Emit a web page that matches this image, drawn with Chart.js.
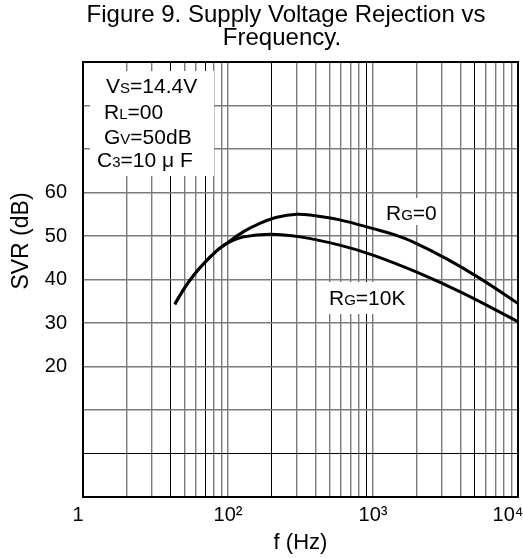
<!DOCTYPE html>
<html>
<head>
<meta charset="utf-8">
<script src="https://cdn.jsdelivr.net/npm/chart.js@4.4.0/dist/chart.umd.min.js"></script>
<style>
  html, body { margin: 0; padding: 0; background: #fff; }
</style>
</head>
<body>
<canvas id="svrChart" width="523" height="558"></canvas>
<script>
// values: frequency (Hz) and SVR (dB)
const freqRg0 = [43, 50, 59, 71, 85, 98, 128, 166, 217, 298, 387, 590, 1000, 1400, 1900, 3200, 5500, 10000];
const svrRg0 = [34.3, 38.0, 41.3, 44.3, 46.8, 48.3, 51.0, 52.9, 54.3, 55.0, 54.7, 53.7, 51.7, 50.3, 48.6, 44.8, 40.2, 34.5];

const freqRg10k = [43, 50, 59, 71, 85, 98, 128, 195, 314, 590, 1000, 2100, 4200, 10000];
const svrRg10k = [34.3, 38.0, 41.3, 44.3, 46.8, 48.3, 49.8, 50.4, 49.8, 47.9, 45.6, 41.4, 36.8, 30.3];

// axes
const decades = [10, 100, 1000, 10000];
const decadeLabels = ['1', '10²', '10³', '10⁴'];
const yLabels = [20, 30, 40, 50, 60];

const FONT = '"Liberation Sans", Arial, Helvetica, sans-serif';

// grid ticks: 1..9 in every decade
const xGrid = [];
decades.forEach((d, i) => {
  if (i === decades.length - 1) { xGrid.push(d); return; }
  for (let k = 1; k <= 9; k++) xGrid.push(d * k);
});
// a few lines in the scan are printed darker
const darkX = [40, 70, 200, 900, 5000];
const darkY = [0];

const toPoints = (xs, ys) => xs.map((x, i) => ({ x: x, y: ys[i] }));

// text with small capital parts, e.g. V + S
function drawMixed(ctx, x, y, parts) {
  let cx = x;
  parts.forEach(([txt, small]) => {
    ctx.font = (small ? '15px ' : '21px ') + FONT;
    ctx.fillText(txt, cx, y);
    cx += ctx.measureText(txt).width;
  });
}

const figureText = {
  id: 'figureText',
  afterDraw(chart) {
    const { ctx, chartArea: a } = chart;
    ctx.save();
    ctx.fillStyle = '#000';

    // frame
    ctx.strokeStyle = '#000';
    ctx.lineWidth = 2;
    ctx.strokeRect(a.left, a.top, a.right - a.left, a.bottom - a.top);

    // title
    ctx.font = '24px ' + FONT;
    ctx.textAlign = 'center';
    ctx.textBaseline = 'alphabetic';
    ctx.fillText('Figure 9. Supply Voltage Rejection vs', 286, 22);
    ctx.fillText('Frequency.', 282, 45);

    // y axis title
    ctx.save();
    ctx.font = '23px ' + FONT;
    ctx.textBaseline = 'middle';
    ctx.translate(22, 241);
    ctx.rotate(-Math.PI / 2);
    ctx.fillText('SVR (dB)', 0, 0);
    ctx.restore();

    // white boxes behind the notes
    ctx.fillStyle = '#fff';
    ctx.fillRect(90, 71, 124, 105);
    ctx.fillRect(382, 198, 58, 27);
    ctx.fillRect(327, 282, 84, 32);

    ctx.fillStyle = '#000';
    ctx.textAlign = 'left';
    ctx.textBaseline = 'alphabetic';
    drawMixed(ctx, 106, 93, [['V'], ['S', true], ['=14.4V']]);
    drawMixed(ctx, 104, 119, [['R'], ['L', true], ['=00']]);
    drawMixed(ctx, 104, 144, [['G'], ['V', true], ['=50dB']]);
    drawMixed(ctx, 97, 167, [['C'], ['3', true], ['=10 μ F']]);

    drawMixed(ctx, 386, 220, [['R'], ['G', true], ['=0']]);
    drawMixed(ctx, 329, 305, [['R'], ['G', true], ['=10K']]);
    ctx.restore();
  }
};

new Chart(document.getElementById('svrChart'), {
  type: 'line',
  data: {
    datasets: [
      { label: 'RG=0', data: toPoints(freqRg0, svrRg0) },
      { label: 'RG=10K', data: toPoints(freqRg10k, svrRg10k) }
    ]
  },
  options: {
    responsive: false,
    animation: false,
    devicePixelRatio: 1,
    layout: { padding: { top: 62, right: 5, left: 35, bottom: 0 } },
    elements: {
      line: { borderColor: '#000', borderWidth: 3, fill: false, tension: 0.4 },
      point: { radius: 0 }
    },
    plugins: { legend: { display: false }, tooltip: { enabled: false } },
    scales: {
      x: {
        type: 'logarithmic',
        min: 10,
        max: 10000,
        afterBuildTicks(axis) {
          axis.ticks = xGrid.map(v => ({ value: v }));
        },
        afterFit(axis) {
          axis.height = 61;
          axis.paddingLeft = 0;
          axis.paddingRight = 0;
        },
        border: { display: false },
        grid: {
          drawTicks: false,
          color: c => darkX.includes(c.tick && c.tick.value) ? '#000' : '#7a7a7a',
          lineWidth: c => darkX.includes(c.tick && c.tick.value) ? 1 : 1.4
        },
        ticks: {
          autoSkip: false,
          maxRotation: 0,
          minRotation: 0,
          padding: 6,
          color: '#000',
          font: { family: FONT, size: 20 },
          callback(value) {
            const i = decades.indexOf(value);
            if (i < 0) return '';
            // first and last labels sit a little left of their lines in the original
            if (i === 0) return decadeLabels[i] + '\u2002';
            if (i === decades.length - 1) return decadeLabels[i] + '\u2002\u2002';
            return decadeLabels[i];
          }
        },
        title: {
          display: true,
          text: 'f (Hz)',
          color: '#000',
          padding: { top: 0, bottom: 2 },
          font: { family: FONT, size: 22 }
        }
      },
      y: {
        min: -10,
        max: 90,
        afterFit(axis) {
          axis.width = 48;
          axis.paddingTop = 0;
          axis.paddingBottom = 0;
        },
        border: { display: false },
        grid: {
          drawTicks: false,
          color: c => darkY.includes(c.tick && c.tick.value) ? '#000' : '#7a7a7a',
          lineWidth: c => darkY.includes(c.tick && c.tick.value) ? 1 : 1.4
        },
        ticks: {
          stepSize: 10,
          padding: 16,
          color: '#000',
          font: { family: FONT, size: 20 },
          callback: v => yLabels.includes(v) ? String(v) : ''
        }
      }
    }
  },
  plugins: [figureText]
});
</script>
</body>
</html>
